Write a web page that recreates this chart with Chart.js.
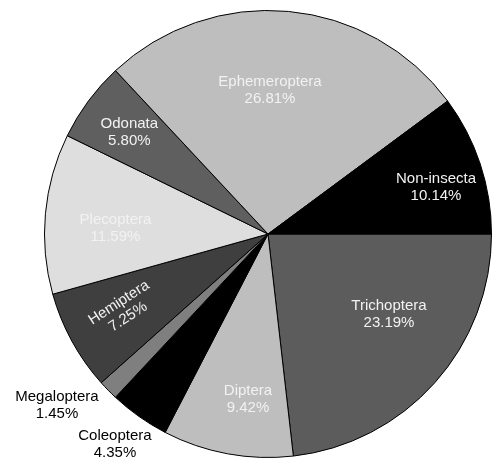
<!DOCTYPE html>
<html>
<head>
<meta charset="utf-8">
<script src="https://cdn.jsdelivr.net/npm/chart.js@4"></script>
<style>
  body { margin: 0; background: #fff; }
</style>
</head>
<body>
<canvas id="taxaChart" width="492" height="460"></canvas>
<script>
const taxa = ['Trichoptera', 'Diptera', 'Coleoptera', 'Megaloptera', 'Hemiptera',
  'Plecoptera', 'Odonata', 'Ephemeroptera', 'Non-insecta'];
const shares = [23.19, 9.42, 4.35, 1.45, 7.25, 11.59, 5.80, 26.81, 10.14];

const fills = ['#5c5c5c', '#bebebe', '#000000', '#7f7f7f', '#3f3f3f',
  '#dedede', '#5f5f5f', '#bebebe', '#000000'];

// where each label sits: [fraction of radius, angle clockwise from 3 o'clock, text rotation, colour]
const labelSpots = [
  [0.65, 33.6, 0, '#f2f2f2'],
  [0.745, 96.9, 0, '#f2f2f2'],
  [1.165, 126, 0, '#000'],
  [1.215, 141, 0, '#000'],
  [0.73, 152.3, -33, '#f2f2f2'],
  [0.683, 182.2, 0, '#f2f2f2'],
  [0.77, 216.3, 0, '#f2f2f2'],
  [0.643, 270.8, 0, '#f2f2f2'],
  [0.78, 344.5, 0, '#f2f2f2'],
];

const sliceLabels = {
  id: 'sliceLabels',
  afterDatasetsDraw(chart) {
    const ctx = chart.ctx;
    const arcs = chart.getDatasetMeta(0).data;
    ctx.save();
    ctx.font = '15px "Liberation Sans", Arial, sans-serif';
    ctx.textAlign = 'center';
    ctx.textBaseline = 'middle';
    arcs.forEach((arc, i) => {
      const [frac, deg, rot, color] = labelSpots[i];
      const a = deg * Math.PI / 180;
      const d = arc.outerRadius * frac;
      const x = arc.x + d * Math.cos(a);
      const y = arc.y + d * Math.sin(a);
      ctx.save();
      ctx.translate(x, y);
      ctx.rotate(rot * Math.PI / 180);
      ctx.fillStyle = color;
      ctx.fillText(taxa[i], 0, -8.5);
      ctx.fillText(shares[i].toFixed(2) + '%', 0, 8.5);
      ctx.restore();
    });
    ctx.restore();
  }
};

new Chart(document.getElementById('taxaChart'), {
  type: 'pie',
  data: {
    labels: taxa,
    datasets: [{
      data: shares,
      backgroundColor: fills,
      borderColor: '#000',
      borderWidth: 1,
    }]
  },
  options: {
    responsive: false,
    animation: false,
    rotation: 90,
    layout: { padding: { left: 44, right: 0, top: 10, bottom: 2 } },
    plugins: {
      legend: { display: false },
      tooltip: { enabled: false },
    },
  },
  plugins: [sliceLabels],
});
</script>
</body>
</html>
